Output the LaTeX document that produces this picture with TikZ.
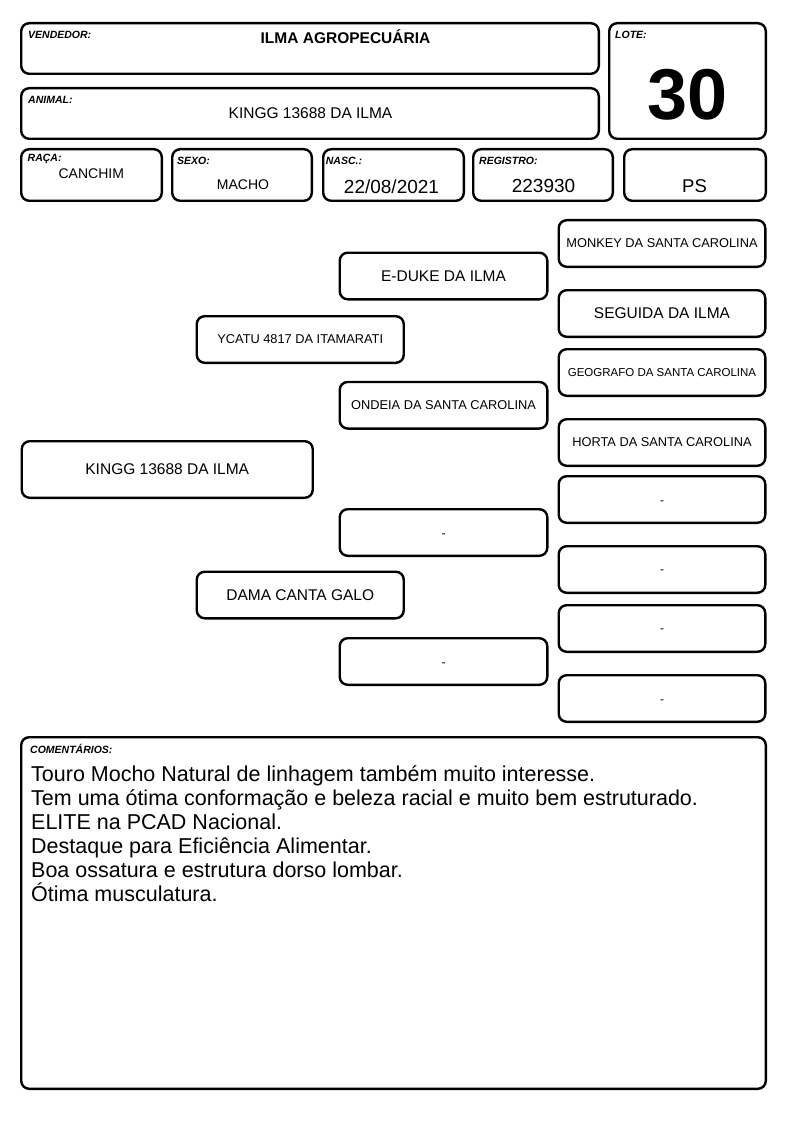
\documentclass[tikz,border=0pt]{standalone}
\usepackage{fontspec}
\setmainfont{Liberation Sans}
\newcommand\fsz[1]{\fontsize{#1}{#1}\selectfont}
\begin{document}
\begin{tikzpicture}[x=1pt,y=-1pt,
  box/.style={draw, line width=2.4pt, rounded corners=8pt, inner sep=0pt, fill=white},
  pbox/.style={box, minimum width=206.6pt, minimum height=46.6pt},
  gbox/.style={box, minimum width=207.6pt, minimum height=46.6pt},
  hrow/.style={box, minimum height=51.6pt},
  dashtxt/.style={font=\fsz{12}, inner sep=0pt, anchor=base},
  lab/.style={font=\bfseries\itshape\fsz{10.5}, anchor=base west, inner sep=0pt},
  val/.style={anchor=base, inner sep=0pt},
  cline/.style={font=\fsz{21.5}, anchor=base west, inner sep=0pt},
]
\useasboundingbox (0,0) rectangle (794,1123);
% header boxes
\node[box, minimum width=577.6pt, minimum height=50.6pt] (vend) at (310,48.5) {};
\node[box, minimum width=577.6pt, minimum height=50.6pt] (anim) at (310,113.5) {};
\node[box, minimum width=156.6pt, minimum height=115.6pt] (lote) at (687.5,81) {};
\node[hrow, minimum width=140.6pt] (raca) at (91.5,175) {};
\node[hrow, minimum width=139.6pt] (sexo) at (242,175) {};
\node[hrow, minimum width=140.6pt] (nasc) at (393.5,175) {};
\node[hrow, minimum width=139.6pt] (reg) at (543,175) {};
\node[hrow, minimum width=141.6pt] (ps) at (695,175) {};
% labels
\node[lab] (lvend) at (28,39) {VENDEDOR:};
\node[lab] (lanim) at (28,103.3) {ANIMAL:};
\node[lab] (llote) at (615,39) {LOTE:};
\node[lab] (lraca) at (27.5,162) {RAÇA:};
\node[lab] (lsexo) at (177,165) {SEXO:};
\node[lab] (lnasc) at (325.7,165) {NASC.:};
\node[lab] (lreg) at (479,165) {REGISTRO:};
% values
\node[val, font=\bfseries\fsz{15.5}] (tvend) at (345.5,43.5) {ILMA AGROPECUÁRIA};
\node[val, font=\fsz{15.5}] (tanim) at (310.5,119) {KINGG 13688 DA ILMA};
\node[val, font=\bfseries\fsz{72}] (tlote) at (687.5,120) {30};
\node[val, font=\fsz{14}] (traca) at (91.3,178.3) {CANCHIM};
\node[val, font=\fsz{14}] (tsexo) at (243,189.3) {MACHO};
\node[val, font=\fsz{19}] (tnasc) at (391.5,193.3) {22/08/2021};
\node[val, font=\fsz{19}] (treg) at (543.5,192.7) {223930};
\node[val, font=\fsz{18.5}] (tps) at (694.5,192.7) {PS};
% pedigree
\node[box, minimum width=291pt, minimum height=56.6pt, font=\fsz{15.5}] (g1) at (167.25,469.5) {KINGG 13688 DA ILMA};
\node[box, minimum width=207pt, minimum height=46.6pt, font=\fsz{12.8}] (g2a) at (300.25,339.5) {YCATU 4817 DA ITAMARATI};
\node[box, minimum width=207pt, minimum height=46.6pt, font=\fsz{15.5}] (g2b) at (300.25,595) {DAMA CANTA GALO};
\node[gbox, font=\fsz{15.5}] (g3a) at (443.5,276) {E-DUKE DA ILMA};
\node[gbox, font=\fsz{12.8}] (g3b) at (443.5,405.25) {ONDEIA DA SANTA CAROLINA};
\node[gbox] (g3c) at (443.5,532.5) {};
\node[gbox] (g3d) at (443.5,661.5) {};
\node[pbox, font=\fsz{12.8}] (g4a) at (662,243.5) {MONKEY DA SANTA CAROLINA};
\node[pbox, font=\fsz{15.5}] (g4b) at (662,313.5) {SEGUIDA DA ILMA};
\node[pbox, font=\fsz{11.5}] (g4c) at (662,372.5) {GEOGRAFO DA SANTA CAROLINA};
\node[pbox, font=\fsz{12.8}] (g4d) at (662,442.5) {HORTA DA SANTA CAROLINA};
\node[pbox] (g4e) at (662,499.5) {};
\node[pbox] (g4f) at (662,569.5) {};
\node[pbox] (g4g) at (662,628.5) {};
\node[pbox] (g4h) at (662,698.5) {};
\node[dashtxt] (d3c) at (443.5,537.5) {-};
\node[dashtxt] (d3d) at (443.5,666) {-};
\node[dashtxt] (d4e) at (662,504) {-};
\node[dashtxt] (d4f) at (662,573) {-};
\node[dashtxt] (d4g) at (662,632) {-};
\node[dashtxt] (d4h) at (662,703) {-};
% comments
\node[box, minimum width=744.6pt, minimum height=351.6pt] (com) at (393.5,913) {};
\node[lab] (lcom) at (30,753) {COMENTÁRIOS:};
\node[cline] (c1) at (31,781) {Touro Mocho Natural de linhagem também muito interesse.};
\node[cline] (c2) at (31,805) {Tem uma ótima conformação e beleza racial e muito bem estruturado.};
\node[cline] (c3) at (31,829) {ELITE na PCAD Nacional.};
\node[cline] (c4) at (31,853) {Destaque para Eficiência Alimentar.};
\node[cline] (c5) at (31,877) {Boa ossatura e estrutura dorso lombar.};
\node[cline] (c6) at (31,901) {Ótima musculatura.};
\end{tikzpicture}
\end{document}
